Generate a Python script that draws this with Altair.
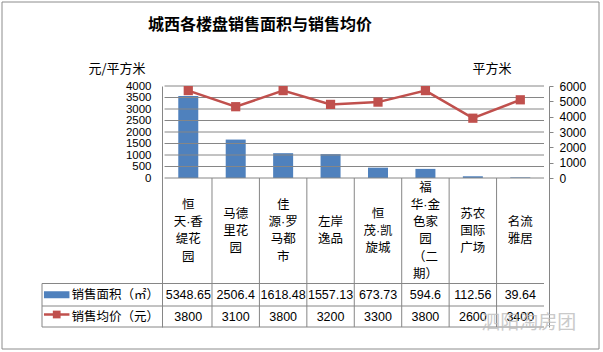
import altair as alt
import pandas as pd

# ---------------- data ----------------
categories = ["恒天·香缇花园", "马德里花园", "佳源·罗马都市", "左岸逸品",
              "恒茂·凯旋城", "福华·金色家园（二期）", "苏农国际广场", "名流雅居"]
category_lines = ["恒\n天·香\n缇花\n园", "马德\n里花\n园", "佳\n源·罗\n马都\n市", "左岸\n逸品",
                  "恒\n茂·凯\n旋城", "福\n华·金\n色家\n园\n（二\n期）", "苏农\n国际\n广场", "名流\n雅居"]
area_values = [5348.65, 2506.4, 1618.48, 1557.13, 673.73, 594.6, 112.56, 39.64]
area_labels = ["5348.65", "2506.4", "1618.48", "1557.13", "673.73", "594.6", "112.56", "39.64"]
price_values = [3800, 3100, 3800, 3200, 3300, 3800, 2600, 3400]
series_names = ["销售面积（㎡）", "销售均价（元）"]
price_ticks = [0, 500, 1000, 1500, 2000, 2500, 3000, 3500, 4000]
area_ticks = [0, 1000, 2000, 3000, 4000, 5000, 6000]
title_text = "城西各楼盘销售面积与销售均价"
left_axis_title = "元/平方米"
right_axis_title = "平方米"
watermark = "泗阳淘房团"

# ---------------- layout ----------------
PAD_L, PAD_T, PAD_R, PAD_B = 37, 86, 54, 25
HEADER_PX = 125          # width of table header column
COL_W = 48.375           # width of one category column
N = len(categories)
W = HEADER_PX + COL_W * N
H = 241                  # plot + table height
TOP_H = 92               # height of chart part
# table units: pixels below top of plot area
ROW_EDGES = [92, 197.5, 220, 241]
LINE_H = 17.2

BLUE = "#4F81BD"
RED = "#C0504D"
GRID = "#868686"
CJK = "Noto Sans CJK SC"
NUM = "Liberation Sans"
MIX = "Liberation Sans, Noto Sans CJK SC"

def tx(px):
    """page pixel x -> column units"""
    return (px - (PAD_L + HEADER_PX)) / COL_W

xscale = alt.Scale(domain=[-HEADER_PX / COL_W, N], nice=False, zero=False)
price_lo = price_ticks[-1] - price_ticks[-1] * H / TOP_H
area_lo = area_ticks[-1] - area_ticks[-1] * H / TOP_H
price_scale = alt.Scale(domain=[price_lo, price_ticks[-1]], nice=False, zero=False)
area_scale = alt.Scale(domain=[area_lo, area_ticks[-1]], nice=False, zero=False)
table_scale = alt.Scale(domain=[0, H], reverse=True, nice=False, zero=False)

r0, r1, r2, r3 = ROW_EDGES
cat_center = (r0 + r1) / 2

df = pd.DataFrame({
    "x": [i + 0.5 for i in range(N)],
    "cat": categories,
    "label": category_lines,
    "area": area_values,
    "area_txt": area_labels,
    "price": price_values,
    "price_txt": [str(p) for p in price_values],
})
df["ty"] = [cat_center - (s.count("\n")) * LINE_H / 2 for s in category_lines]
df["ty1"] = (r1 + r2) / 2
df["ty2"] = (r2 + r3) / 2

left_axis = alt.Axis(orient="left", offset=-HEADER_PX, values=price_ticks, ticks=False, grid=False,
                     format="d", labelOverlap=False,
                     labelPadding=11, labelFont=NUM, labelFontSize=11.5, labelColor="#000",
                     domainColor=GRID, title=left_axis_title, titleAngle=0, titleX=-74, titleY=-18,
                     titleAlign="left", titleBaseline="middle", titleFont=CJK, titleFontSize=13,
                     titleFontWeight="normal", titleColor="#000")
right_axis = alt.Axis(orient="right", values=area_ticks, ticks=True, tickSize=4, tickColor=GRID, grid=False,
                      format="d", labelOverlap=False,
                      labelPadding=6, labelFont=NUM, labelFontSize=12, labelColor="#000",
                      domainColor=GRID, title=right_axis_title, titleAngle=0, titleX=-77, titleY=-18,
                      titleAlign="left", titleBaseline="middle", titleFont=CJK, titleFontSize=13,
                      titleFontWeight="normal", titleColor="#000")

X = alt.X("x:Q", scale=xscale, axis=None)

# ---- price group (left axis) ----
grid_df = pd.DataFrame({"v": price_ticks, "x0": 0, "x1": N})
grid = alt.Chart(grid_df).mark_rule(color=GRID, strokeWidth=1).encode(
    x=alt.X("x0:Q", scale=xscale, axis=None), x2="x1:Q",
    y=alt.Y("v:Q", scale=price_scale, axis=left_axis))
line = alt.Chart(df).mark_line(color=RED, strokeWidth=2.5).encode(
    x=X, y=alt.Y("price:Q", scale=price_scale, axis=left_axis))
pts = alt.Chart(df).mark_point(shape="square", filled=True, size=85, color=RED, opacity=1).encode(
    x=X, y=alt.Y("price:Q", scale=price_scale, axis=left_axis))
price_group = alt.layer(grid, line, pts)

# ---- bars (right axis) ----
bars = alt.Chart(df).mark_bar(color=BLUE, size=20).encode(
    x=X, y=alt.Y("area:Q", scale=area_scale, axis=right_axis), y2=alt.datum(0))

# ---- table ----
hl_df = pd.DataFrame({"y": [r1, r2, r3], "x0": -HEADER_PX / COL_W, "x1": N})
hlines = alt.Chart(hl_df).mark_rule(color=GRID, strokeWidth=1).encode(
    x=alt.X("x0:Q", scale=xscale, axis=None), x2="x1:Q",
    y=alt.Y("y:Q", scale=table_scale, axis=None))
vl_df = pd.DataFrame({"x": list(range(1, N)) + [-HEADER_PX / COL_W],
                      "y0": [r0] * (N - 1) + [r1], "y1": r3})
vlines = alt.Chart(vl_df).mark_rule(color=GRID, strokeWidth=1).encode(
    x=alt.X("x:Q", scale=xscale, axis=None),
    y=alt.Y("y0:Q", scale=table_scale, axis=None), y2="y1:Q")

cat_text = alt.Chart(df).mark_text(
    font=MIX, fontSize=12.5, lineBreak="\n", lineHeight=LINE_H, baseline="middle", align="center",
    color="#000").encode(x=X, y=alt.Y("ty:Q", scale=table_scale, axis=None), text="label:N")
area_text = alt.Chart(df).mark_text(
    font=NUM, fontSize=12.5, baseline="middle", align="center", color="#000").encode(
    x=X, y=alt.Y("ty1:Q", scale=table_scale, axis=None), text="area_txt:N")
price_text = alt.Chart(df).mark_text(
    font=NUM, fontSize=12.5, baseline="middle", align="center", color="#000").encode(
    x=X, y=alt.Y("ty2:Q", scale=table_scale, axis=None), text="price_txt:N")

hdr_df = pd.DataFrame({"name": series_names, "ty": [(r1 + r2) / 2, (r2 + r3) / 2], "x": tx(67)})
hdr_text = alt.Chart(hdr_df).mark_text(font=CJK, fontSize=12.5, baseline="middle", align="left",
                                       color="#000").encode(
    x=alt.X("x:Q", scale=xscale, axis=None), y=alt.Y("ty:Q", scale=table_scale, axis=None), text="name:N")

sw_bar_df = pd.DataFrame({"x0": [tx(39)], "x1": [tx(65)], "y0": [(r1 + r2) / 2 - 3.5], "y1": [(r1 + r2) / 2 + 3.5]})
sw_bar = alt.Chart(sw_bar_df).mark_rect(color=BLUE).encode(
    x=alt.X("x0:Q", scale=xscale, axis=None), x2="x1:Q",
    y=alt.Y("y0:Q", scale=table_scale, axis=None), y2="y1:Q")
sw_line_df = pd.DataFrame({"x0": [tx(39)], "x1": [tx(65)], "xm": [tx(52)], "y": [(r2 + r3) / 2 - 2]})
sw_line = alt.Chart(sw_line_df).mark_rule(color=RED, strokeWidth=2.5).encode(
    x=alt.X("x0:Q", scale=xscale, axis=None), x2="x1:Q",
    y=alt.Y("y:Q", scale=table_scale, axis=None))
sw_pt = alt.Chart(sw_line_df).mark_point(shape="square", filled=True, size=60, color=RED, opacity=1).encode(
    x=alt.X("xm:Q", scale=xscale, axis=None), y=alt.Y("y:Q", scale=table_scale, axis=None))

wm_df = pd.DataFrame({"t": [watermark], "x": [tx(485)], "y": [236.5]})
wm = alt.Chart(wm_df).mark_text(font=CJK, fontSize=19, align="left", baseline="middle",
                                color="#bdbdbd", opacity=0.8).encode(
    x=alt.X("x:Q", scale=xscale, axis=None), y=alt.Y("y:Q", scale=table_scale, axis=None), text="t:N")

table_group = alt.layer(hlines, vlines, cat_text, area_text, price_text, hdr_text, sw_bar, sw_line, sw_pt, wm)

# ---- title & frame ----
title = alt.Chart(pd.DataFrame({"t": [title_text]})).mark_text(
    font=CJK, fontSize=16, fontWeight="bold", align="center", baseline="middle", color="#000").encode(
    text="t:N", x=alt.value(260 - PAD_L), y=alt.value(25 - PAD_T))
frame = alt.Chart(pd.DataFrame({"a": [0]})).mark_rect(fillOpacity=0, stroke="#8c8c8c", strokeWidth=1).encode(
    x=alt.value(2 - PAD_L), x2=alt.value(599 - PAD_L), y=alt.value(2 - PAD_T), y2=alt.value(349 - PAD_T))

chart = alt.layer(frame, table_group, bars, price_group, title).resolve_scale(y="independent").properties(
    width=W, height=H,
    autosize=alt.AutoSizeParams(type="none"),
    padding={"left": PAD_L, "top": PAD_T, "right": PAD_R, "bottom": PAD_B},
    background="white",
).configure_view(stroke=None)

chart.save("out.html", embed_options={"renderer": "svg", "actions": False})
